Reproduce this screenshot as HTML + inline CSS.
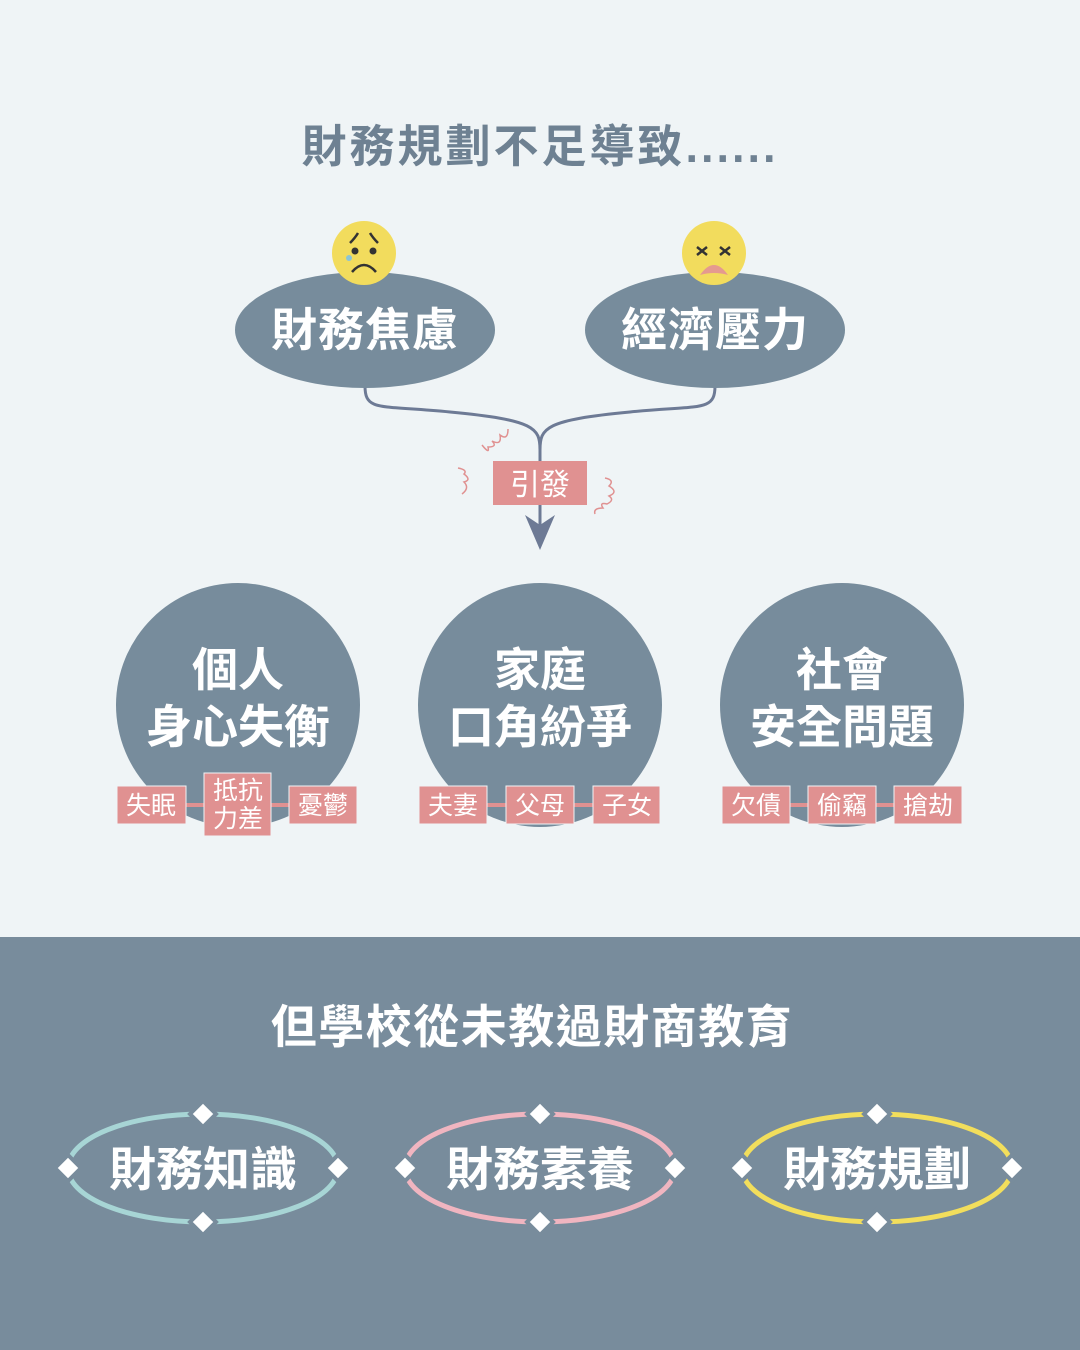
<!DOCTYPE html>
<html><head><meta charset="utf-8"><style>
body{margin:0;width:1080px;height:1350px;overflow:hidden;background:#eff4f6}
svg{display:block}
text{font-family:"Liberation Sans","Noto Sans CJK TC",sans-serif}
</style></head><body>
<svg width="1080" height="1350" viewBox="0 0 1080 1350">
<rect width="1080" height="1350" fill="#eff4f6"/>
<text x="540" y="162" font-size="45" font-weight="bold" fill="#6e8192" text-anchor="middle" letter-spacing="3">財務規劃不足導致......</text>
<!-- connector -->
<path d="M365 386 C365 412 380 405 450 412 C535 420 540 428 540 450 M715 386 C715 412 700 405 630 412 C545 420 540 428 540 450 L540 530" fill="none" stroke="#6d7a95" stroke-width="3"/>
<path d="M525 515 L540 550 L555 515 L540 525 Z" fill="#6d7a95"/>
<!-- bursts -->
<path d="M462 445 q8 10 6 2 q10 0 4 -6 q10 5 8 -6 q8 6 8 -6" fill="none" stroke="#e09191" stroke-width="1.5" transform="translate(20,0)"/>
<path d="M458 468 q10 2 6 6 q8 6 0 8 q6 6 -2 12" fill="none" stroke="#e09191" stroke-width="1.5"/>
<path d="M605 478 q10 2 4 8 q10 6 0 10 q6 4 -2 8 q-8 -2 -4 4 q-10 0 -8 6" fill="none" stroke="#e09191" stroke-width="1.5"/>
<rect x="493" y="461" width="94" height="44" fill="#e09191"/>
<text x="540" y="495" font-size="30" fill="#fff" text-anchor="middle">引發</text>
<!-- ellipses -->
<ellipse cx="365" cy="330" rx="130" ry="58" fill="#778c9c"/>
<ellipse cx="715" cy="330" rx="130" ry="58" fill="#778c9c"/>
<text x="365" y="346" font-size="46" font-weight="bold" fill="#fff" text-anchor="middle" letter-spacing="1">財務焦慮</text>
<text x="715" y="346" font-size="46" font-weight="bold" fill="#fff" text-anchor="middle" letter-spacing="1">經濟壓力</text>
<!-- faces -->
<circle cx="364" cy="253" r="32" fill="#f2dc5d"/>
<path d="M350 243 q5 -5 8 -10 M378 243 q-5 -5 -8 -10" stroke="#333" stroke-width="2.5" fill="none"/>
<circle cx="355" cy="251" r="3.5" fill="#333"/><circle cx="373" cy="251" r="3.5" fill="#333"/>
<circle cx="349" cy="258" r="3" fill="#8cc5d6"/>
<path d="M352 272 q12 -14 24 0" stroke="#333" stroke-width="2.5" fill="none"/>
<circle cx="714" cy="253" r="32" fill="#f2dc5d"/>
<path d="M697 247 l10 8 M707 247 l-10 8 M720 247 l10 8 M730 247 l-10 8" stroke="#333" stroke-width="2.5"/>
<path d="M700 275 q14 -20 28 0 q-14 -4 -28 0Z" fill="#e59a8f"/>
<!-- circles -->
<circle cx="238" cy="705" r="122" fill="#778c9c"/>
<circle cx="540" cy="705" r="122" fill="#778c9c"/>
<circle cx="842" cy="705" r="122" fill="#778c9c"/>
<g font-size="46" font-weight="bold" fill="#fff" text-anchor="middle">
<text x="238" y="686">個人</text><text x="238" y="743">身心失衡</text>
<text x="540" y="686">家庭</text><text x="540" y="743">口角紛爭</text>
<text x="842" y="686">社會</text><text x="842" y="743">安全問題</text>
</g>
<!-- tag connectors -->
<g stroke="#e09191" stroke-width="4">
<line x1="150" y1="805" x2="330" y2="805"/><line x1="450" y1="805" x2="630" y2="805"/><line x1="750" y1="805" x2="930" y2="805"/>
</g>
<g fill="#e09191" stroke="#eff4f6" stroke-width="1">
<rect x="117" y="786" width="69" height="38"/><rect x="204" y="773" width="67" height="63"/><rect x="289" y="786" width="68" height="38"/>
<rect x="419" y="786" width="68" height="38"/><rect x="506" y="786" width="68" height="38"/><rect x="593" y="786" width="67" height="38"/>
<rect x="722" y="786" width="68" height="38"/><rect x="808" y="786" width="68" height="38"/><rect x="894" y="786" width="68" height="38"/>
</g>
<g font-size="25" fill="#fff" text-anchor="middle">
<text x="151" y="814">失眠</text><text x="238" y="799">抵抗</text><text x="238" y="827">力差</text><text x="323" y="814">憂鬱</text>
<text x="453" y="814">夫妻</text><text x="540" y="814">父母</text><text x="627" y="814">子女</text>
<text x="756" y="814">欠債</text><text x="842" y="814">偷竊</text><text x="928" y="814">搶劫</text>
</g>
<!-- bottom -->
<rect x="0" y="937" width="1080" height="413" fill="#788c9c"/>
<text x="532" y="1043" font-size="46" font-weight="bold" fill="#fff" text-anchor="middle" letter-spacing="1.5">但學校從未教過財商教育</text>
<g fill="none" stroke-width="5">
<ellipse cx="203" cy="1168" rx="135" ry="54" stroke="#a7d5d5"/>
<ellipse cx="540" cy="1168" rx="135" ry="54" stroke="#f0b5c0"/>
<ellipse cx="877" cy="1168" rx="135" ry="54" stroke="#f2de5c"/>
</g>
<g fill="#fff" stroke="#788c9c" stroke-width="4">
<path d="M0 -13 L13 0 L0 13 L-13 0Z" transform="translate(203,1114)"/>
<path d="M0 -13 L13 0 L0 13 L-13 0Z" transform="translate(203,1222)"/>
<path d="M0 -13 L13 0 L0 13 L-13 0Z" transform="translate(68,1168)"/>
<path d="M0 -13 L13 0 L0 13 L-13 0Z" transform="translate(338,1168)"/>
<path d="M0 -13 L13 0 L0 13 L-13 0Z" transform="translate(540,1114)"/>
<path d="M0 -13 L13 0 L0 13 L-13 0Z" transform="translate(540,1222)"/>
<path d="M0 -13 L13 0 L0 13 L-13 0Z" transform="translate(405,1168)"/>
<path d="M0 -13 L13 0 L0 13 L-13 0Z" transform="translate(675,1168)"/>
<path d="M0 -13 L13 0 L0 13 L-13 0Z" transform="translate(877,1114)"/>
<path d="M0 -13 L13 0 L0 13 L-13 0Z" transform="translate(877,1222)"/>
<path d="M0 -13 L13 0 L0 13 L-13 0Z" transform="translate(742,1168)"/>
<path d="M0 -13 L13 0 L0 13 L-13 0Z" transform="translate(1012,1168)"/>
</g>
<g font-size="47" font-weight="bold" fill="#fff" text-anchor="middle">
<text x="203" y="1186">財務知識</text><text x="540" y="1186">財務素養</text><text x="877" y="1186">財務規劃</text>
</g>
</svg>
</body></html>
